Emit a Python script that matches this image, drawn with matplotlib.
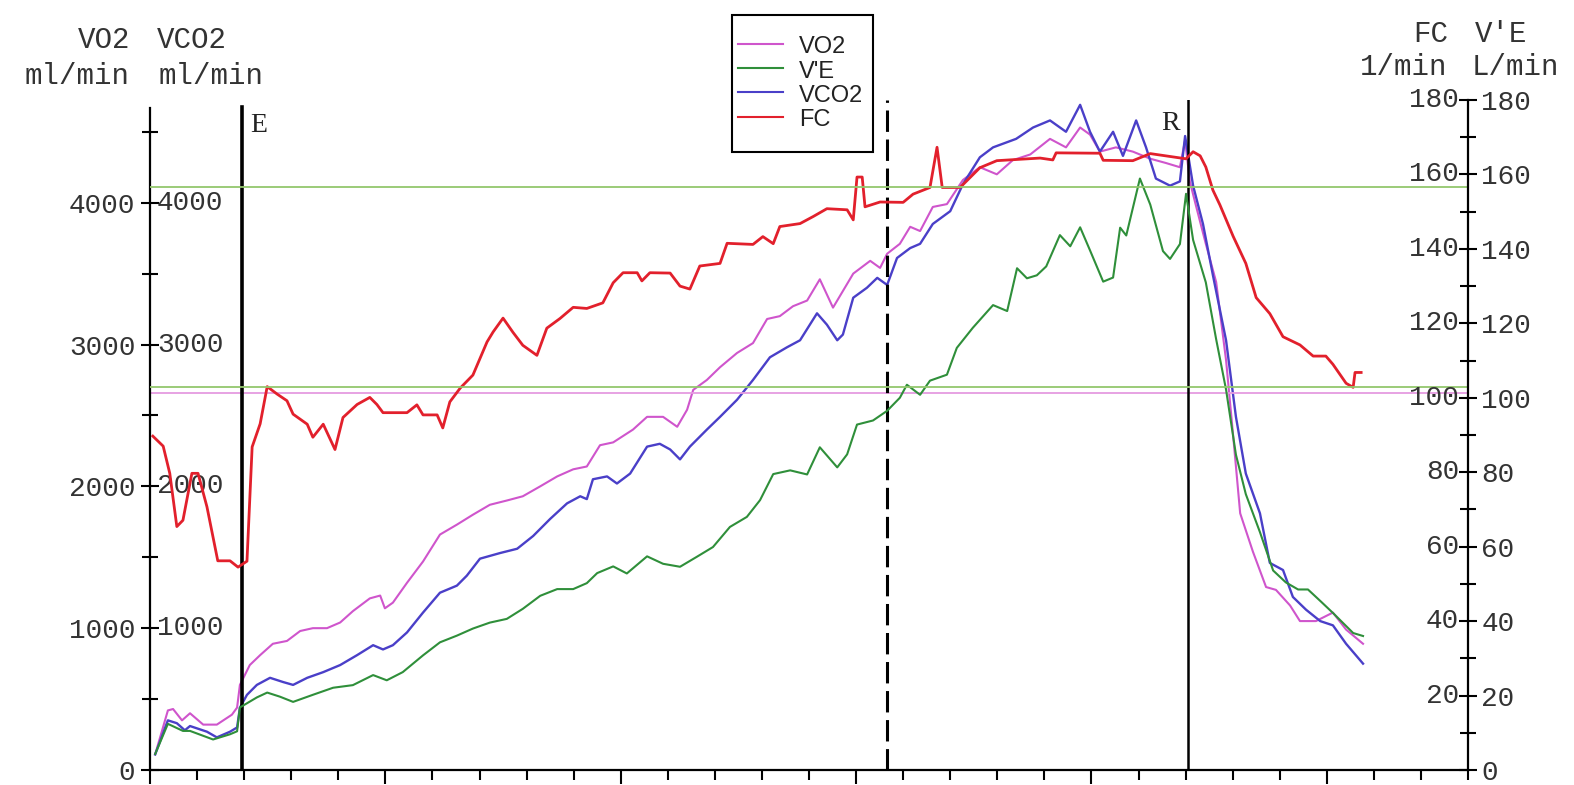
import matplotlib.pyplot as plt
from matplotlib.patches import Rectangle
from matplotlib.ticker import MultipleLocator

plt.rcParams['font.family'] = ['Liberation Mono', 'DejaVu Sans Mono']

# time axis in minutes, markers for start of exercise (E), threshold and recovery (R)
t_start = 1.95
t_threshold = 15.66
t_recovery = 22.05

# VO2, ml/min
vo2_t = [0.11, 0.38, 0.49, 0.68, 0.85, 1.13, 1.42, 1.74, 1.85, 1.91, 2.12, 2.34, 2.61, 2.91,
         3.19, 3.46, 3.76, 4.04, 4.31, 4.67, 4.89, 4.99, 5.16, 5.46, 5.80, 6.16, 6.52, 6.86,
         7.22, 7.58, 7.92, 8.29, 8.65, 8.99, 9.28, 9.56, 9.84, 10.26, 10.56, 10.90, 11.20,
         11.41, 11.54, 11.83, 12.11, 12.47, 12.81, 13.11, 13.38, 13.66, 13.96, 14.23, 14.51,
         14.94, 15.30, 15.51, 15.66, 15.93, 16.15, 16.36, 16.63, 16.93, 17.27, 17.63, 17.99,
         18.33, 18.70, 19.12, 19.46, 19.76, 19.97, 20.18, 20.52, 20.88, 21.25, 21.58, 21.88,
         21.99, 22.09, 22.22, 22.43, 22.65, 22.86, 23.01, 23.16, 23.43, 23.71, 23.92, 24.22,
         24.43, 24.77, 25.13, 25.41, 25.77]
vo2 = [110, 420, 430, 350, 400, 320, 320, 390, 440, 600, 740, 810, 890, 910,
       980, 1000, 1000, 1040, 1120, 1210, 1230, 1140, 1180, 1320, 1470, 1660, 1730, 1800,
       1870, 1900, 1930, 2000, 2070, 2120, 2140, 2290, 2310, 2400, 2490, 2490, 2420,
       2540, 2680, 2750, 2840, 2940, 3010, 3180, 3200, 3270, 3310, 3460, 3260,
       3500, 3590, 3540, 3640, 3710, 3830, 3800, 3970, 3990, 4160, 4250, 4200,
       4300, 4340, 4450, 4390, 4530, 4480, 4360, 4390, 4360, 4310, 4280, 4250,
       4440, 4150, 3980, 3710, 3440, 2890, 2360, 1810, 1540, 1290, 1270, 1160,
       1050, 1050, 1110, 990, 890]

# VCO2, ml/min
vco2_t = [0.11, 0.38, 0.57, 0.74, 0.85, 1.21, 1.42, 1.70, 1.85, 1.91, 2.06, 2.27, 2.55, 2.83,
          3.04, 3.34, 3.68, 4.04, 4.40, 4.74, 4.95, 5.16, 5.46, 5.80, 6.16, 6.52, 6.73, 7.01,
          7.44, 7.80, 8.14, 8.50, 8.86, 9.14, 9.28, 9.41, 9.71, 9.92, 10.20, 10.56, 10.83,
          11.05, 11.26, 11.47, 11.83, 12.11, 12.47, 12.81, 13.17, 13.53, 13.81, 14.17, 14.38,
          14.60, 14.72, 14.94, 15.23, 15.45, 15.66, 15.87, 16.15, 16.36, 16.63, 17.00, 17.27,
          17.63, 17.91, 18.40, 18.76, 19.12, 19.46, 19.76, 19.97, 20.18, 20.46, 20.67, 20.95,
          21.16, 21.37, 21.67, 21.88, 21.99, 22.16, 22.37, 22.58, 22.86, 23.07, 23.28, 23.58,
          23.79, 24.07, 24.28, 24.56, 24.86, 25.13, 25.41, 25.77]
vco2 = [110, 350, 330, 280, 310, 270, 230, 270, 300, 440, 530, 600, 650, 620,
        600, 650, 690, 740, 810, 880, 850, 880, 970, 1110, 1250, 1300, 1370, 1490,
        1530, 1560, 1650, 1770, 1880, 1930, 1910, 2050, 2070, 2020, 2090, 2280, 2300,
        2260, 2190, 2280, 2400, 2490, 2610, 2750, 2910, 2980, 3030, 3220, 3140,
        3030, 3070, 3330, 3400, 3470, 3420, 3610, 3680, 3710, 3850, 3940, 4130,
        4320, 4390, 4450, 4530, 4580, 4500, 4690, 4500, 4360, 4500, 4330, 4580,
        4390, 4170, 4120, 4150, 4470, 4120, 3850, 3490, 3030, 2490, 2090, 1810,
        1460, 1410, 1220, 1130, 1050, 1020, 890, 750]

# V'E, L/min
ve_t = [0.11, 0.38, 0.70, 0.85, 1.34, 1.70, 1.85, 1.91, 2.27, 2.49, 2.76, 3.04, 3.46, 3.89,
        4.31, 4.74, 5.03, 5.37, 5.80, 6.16, 6.52, 6.86, 7.22, 7.58, 7.92, 8.29, 8.65, 8.99,
        9.28, 9.50, 9.84, 10.13, 10.56, 10.90, 11.26, 11.62, 11.96, 12.32, 12.68, 12.96,
        13.24, 13.60, 13.96, 14.23, 14.60, 14.81, 15.02, 15.36, 15.66, 15.93, 16.08, 16.36,
        16.57, 16.93, 17.14, 17.48, 17.91, 18.21, 18.42, 18.63, 18.84, 19.04, 19.33, 19.55,
        19.76, 19.97, 20.25, 20.46, 20.61, 20.74, 21.03, 21.25, 21.52, 21.67, 21.88, 22.01,
        22.16, 22.43, 22.65, 22.86, 23.07, 23.28, 23.58, 23.86, 24.13, 24.39, 24.60, 24.88,
        25.13, 25.56, 25.77]
ve = [4.3, 12.4, 10.5, 10.5, 8.2, 9.6, 10.4, 16.8, 19.5, 20.8, 19.7, 18.3, 20.2, 22.1,
      22.8, 25.5, 24.1, 26.3, 30.8, 34.3, 36.1, 38.0, 39.6, 40.6, 43.3, 46.8, 48.6, 48.6,
      50.2, 52.9, 54.7, 52.8, 57.4, 55.4, 54.6, 57.3, 59.9, 65.3, 68.0, 72.5,
      79.5, 80.5, 79.4, 86.7, 81.3, 84.8, 92.8, 93.9, 96.5, 100.0, 103.5, 100.8,
      104.6, 106.2, 113.4, 118.8, 124.9, 123.3, 134.8, 132.1, 132.9, 135.3, 143.7, 140.7,
      145.8, 139.6, 131.2, 132.3, 145.7, 143.6, 158.9, 151.9, 139.4, 137.3, 141.3, 154.8,
      142.4, 131.0, 115.7, 102.2, 84.7, 74.1, 63.9, 53.6, 50.4, 48.5, 48.5, 45.2,
      42.2, 36.8, 36.0]

# FC (heart rate), 1/min
fc_t = [0.06, 0.28, 0.42, 0.57, 0.70, 0.89, 1.02, 1.21, 1.44, 1.70, 1.87, 2.06, 2.17, 2.34,
        2.49, 2.70, 2.91, 3.04, 3.34, 3.46, 3.68, 3.93, 4.10, 4.40, 4.67, 4.82, 4.95, 5.46,
        5.67, 5.80, 6.10, 6.22, 6.37, 6.59, 6.86, 7.16, 7.29, 7.50, 7.71, 7.92, 8.22, 8.43,
        8.71, 8.99, 9.28, 9.62, 9.84, 10.05, 10.35, 10.45, 10.62, 11.05, 11.26, 11.47, 11.68,
        12.11, 12.26, 12.81, 13.02, 13.24, 13.38, 13.81, 14.09, 14.38, 14.81, 14.94, 15.02,
        15.13, 15.19, 15.51, 16.00, 16.21, 16.57, 16.72, 16.83, 17.21, 17.63, 17.99, 18.91,
        19.18, 19.25, 20.18, 20.25, 20.88, 21.25, 22.01, 22.16, 22.31, 22.43, 22.58, 22.73,
        23.01, 23.28, 23.50, 23.79, 24.07, 24.43, 24.71, 24.98, 25.13, 25.41, 25.56, 25.60,
        25.73]
fc = [89.7, 87.0, 79.7, 65.4, 67.1, 79.7, 79.7, 70.7, 56.2, 56.2, 54.5, 56.1, 86.8, 93.0,
      103.0, 101.0, 99.2, 95.6, 92.9, 89.4, 92.9, 86.1, 94.7, 98.2, 100.1, 98.2, 96.0, 96.0,
      98.1, 95.4, 95.4, 91.9, 98.9, 102.6, 106.1, 115.0, 117.7, 121.4, 117.6, 114.1, 111.4, 118.7,
      121.3, 124.3, 124.0, 125.5, 130.9, 133.6, 133.6, 131.4, 133.6, 133.5, 130.0, 129.2, 135.4,
      136.1, 141.5, 141.2, 143.3, 141.4, 146.0, 146.8, 148.7, 150.8, 150.5, 147.8, 159.3,
      159.3, 151.3, 152.6, 152.5, 154.7, 156.5, 167.3, 156.5, 156.5, 161.8, 163.7, 164.4,
      163.9, 165.8, 165.7, 163.8, 163.7, 165.6, 164.2, 166.1, 165.0, 162.0, 155.8, 151.8,
      143.4, 136.1, 126.9, 122.6, 116.4, 114.2, 111.2, 111.2, 109.0, 103.9, 102.8, 106.8,
      106.8]

# threshold levels
ve_levels = [156.5, 103.0]
vo2_level = 2660

W, H = 1574, 785
fig = plt.figure(figsize=(W / 100, H / 100), dpi=100)
ax = fig.add_axes([150 / W, 1 - 770 / H, 1318 / W, 670 / H])
ax2 = ax.twinx()

c_vo2 = '#cf55cc'
c_vco2 = '#4a3fc8'
c_ve = '#2f8f3a'
c_fc = '#e2202c'

ax.set_xlim(0, 28)
ax.set_ylim(0, 4724)
ax2.set_ylim(0, 180)

l_vo2, = ax.plot(vo2_t, vo2, color=c_vo2, lw=1.5)
l_vco2, = ax.plot(vco2_t, vco2, color=c_vco2, lw=1.7)
ax.axhline(vo2_level, color='#e59be0', lw=1.3)
l_ve, = ax2.plot(ve_t, ve, color=c_ve, lw=1.5)
l_fc, = ax2.plot(fc_t, fc, color=c_fc, lw=2.0)
for v in ve_levels:
    ax2.axhline(v, color='#93c76d', lw=1.3)

ax.axvline(t_start, ymax=0.99, color='black', lw=2.6)
ax.axvline(t_threshold, color='black', lw=2.2, dashes=(7, 2.5))
ax.axvline(t_recovery, color='black', lw=1.8)
mark_tf = ax.get_xaxis_transform()
ax.text(t_start + 0.17, 0.962, 'E', transform=mark_tf, family='Liberation Serif',
        fontsize=20, va='center', ha='left', color='#222222')
ax.text(t_recovery - 0.17, 0.965, 'R', transform=mark_tf, family='Liberation Serif',
        fontsize=20, va='center', ha='right', color='#222222')

# spines
for s in ['top', 'right']:
    ax.spines[s].set_visible(False)
for s in ['top', 'left', 'bottom']:
    ax2.spines[s].set_visible(False)
ax.spines['left'].set_linewidth(1.6)
ax.spines['left'].set_bounds(0, 4670)
ax.spines['bottom'].set_linewidth(1.6)
ax2.spines['right'].set_linewidth(1.6)

# x ticks, no labels
ax.xaxis.set_major_locator(MultipleLocator(5))
ax.xaxis.set_minor_locator(MultipleLocator(1))
ax.tick_params(axis='x', which='major', direction='out', length=10, width=1.5, labelbottom=False)
ax.tick_params(axis='x', which='minor', direction='out', length=7, width=1.5)

# left axis
ax.yaxis.set_major_locator(MultipleLocator(1000))
ax.yaxis.set_minor_locator(MultipleLocator(500))
ax.tick_params(axis='y', which='major', direction='inout', length=13, width=1.5,
               labelsize=20, pad=4, labelcolor='#333333')
ax.tick_params(axis='y', which='minor', direction='inout', length=11, width=1.5)
for v in range(1000, 5000, 1000):
    ax.annotate(str(v), xy=(0, v), xycoords=('axes fraction', 'data'), xytext=(7, 0),
                textcoords='offset pixels', va='center', ha='left', fontsize=20,
                color='#333333')

# right axis
ax2.yaxis.set_major_locator(MultipleLocator(20))
ax2.yaxis.set_minor_locator(MultipleLocator(10))
ax2.tick_params(axis='y', which='major', direction='inout', length=13, width=1.5,
                labelsize=20, pad=3, labelcolor='#333333')
ax2.tick_params(axis='y', which='minor', direction='inout', length=11, width=1.5)
for v in range(20, 200, 20):
    ax2.annotate(str(v), xy=(1, v), xycoords=('axes fraction', 'data'), xytext=(-9, 0),
                 textcoords='offset pixels', va='center', ha='right', fontsize=20,
                 color='#333333')

# axis titles
hdr = dict(fontsize=21, color='#333333', ha='center', va='center')
fig.text(104 / W, 1 - 40 / H, 'VO2', **hdr)
fig.text(192 / W, 1 - 40 / H, 'VCO2', **hdr)
fig.text(77 / W, 1 - 76 / H, 'ml/min', **hdr)
fig.text(211 / W, 1 - 76 / H, 'ml/min', **hdr)
fig.text(1431 / W, 1 - 34 / H, 'FC', **hdr)
fig.text(1501 / W, 1 - 34 / H, "V'E", **hdr)
fig.text(1404 / W, 1 - 67 / H, '1/min', **hdr)
fig.text(1515 / W, 1 - 67 / H, 'L/min', **hdr)

# legend: entries without frame, box drawn separately
leg = fig.legend([l_vo2, l_ve, l_vco2, l_fc], ['VO2', "V'E", 'VCO2', 'FC'],
                 loc='upper left', bbox_to_anchor=(738 / W, 1 - 34 / H), borderaxespad=0,
                 prop={'family': 'Liberation Sans', 'size': 17}, frameon=False,
                 borderpad=0, labelspacing=0, handleheight=1.1,
                 handlelength=1.9, handletextpad=0.7)
for h in leg.get_lines():
    h.set_linewidth(1.5)
for txt in leg.get_texts():
    txt.set_color('#222222')
fig.patches.append(Rectangle((732 / W, 1 - 152 / H), 141 / W, 137 / H,
                             transform=fig.transFigure, fill=False,
                             edgecolor='black', lw=1.5))

fig.savefig('out.png', dpi=100)
